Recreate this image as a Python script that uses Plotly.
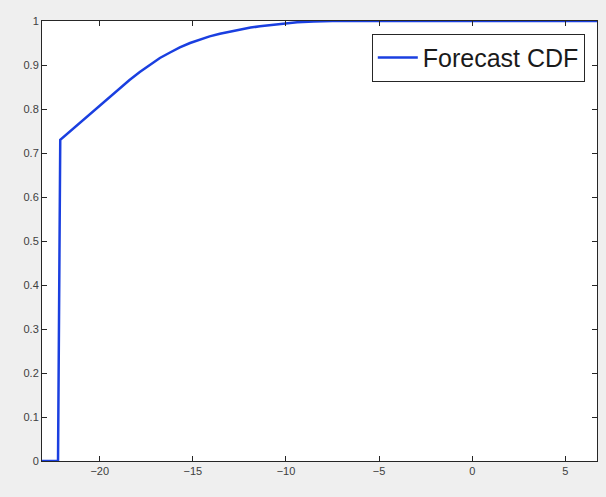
import plotly.graph_objects as go

# Forecast CDF values
cdf_x = [-23.1, -22.24, -22.12, -21.3, -20.54, -20.0, -19.45, -18.92, -18.4, -17.85,
         -17.3, -16.77, -16.2, -15.7, -15.15, -14.62, -14.1, -13.55, -13.0, -12.47,
         -11.9, -11.4, -10.8, -10.3, -9.4, -8.5, -7.5, -5.0, 0.0, 6.7]
cdf_y = [0.0, 0.0, 0.730, 0.760, 0.789, 0.808, 0.828, 0.847, 0.866, 0.884,
         0.901, 0.916, 0.929, 0.940, 0.950, 0.958, 0.965, 0.971, 0.976, 0.980,
         0.985, 0.988, 0.991, 0.994, 0.997, 0.999, 1.0, 1.0, 1.0, 1.0]

x_ticks = [-20, -15, -10, -5, 0, 5]
y_ticks = [0, 0.1, 0.2, 0.3, 0.4, 0.5, 0.6, 0.7, 0.8, 0.9, 1]
y_tick_text = ["0", "0.1", "0.2", "0.3", "0.4", "0.5", "0.6", "0.7", "0.8", "0.9", "1"]

fig = go.Figure()
fig.add_trace(go.Scatter(
    x=cdf_x, y=cdf_y, mode="lines", name="Forecast CDF",
    line=dict(color="#1a3fe0", width=2.5, shape="linear"),
))

axis_common = dict(
    showgrid=False, zeroline=False, showline=True, linecolor="#262626", linewidth=1,
    mirror="ticks", ticks="inside", ticklen=5, tickcolor="#262626", automargin=False,
    tickfont=dict(family="Liberation Sans, Arial, sans-serif", size=11, color="#404040"),
)

fig.update_xaxes(range=[-23.1, 6.7], tickvals=x_ticks, **axis_common)
fig.update_yaxes(range=[0, 1], tickvals=y_ticks, ticktext=y_tick_text, **axis_common)

fig.update_layout(
    width=606, height=497,
    margin=dict(l=42, r=9, t=21, b=36, autoexpand=False),
    paper_bgcolor="#efefef", plot_bgcolor="white",
    showlegend=True,
    legend=dict(
        x=0.978, y=0.971, xanchor="right", yanchor="top",
        bgcolor="white", bordercolor="#262626", borderwidth=1,
        font=dict(family="Liberation Sans, Arial, sans-serif", size=25, color="#1a1a1a"),
        itemwidth=40,
    ),
)

fig.write_html(
    "out.html",
    config={"displayModeBar": False},
    post_script="document.body.style.margin='0';document.body.style.background='#efefef';",
)
